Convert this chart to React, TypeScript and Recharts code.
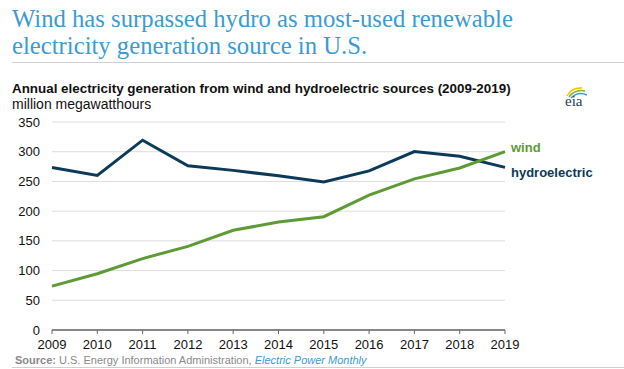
import React from "react";
import { LineChart, Line, XAxis, YAxis, CartesianGrid } from "recharts";

const years = ["2009", "2010", "2011", "2012", "2013", "2014", "2015", "2016", "2017", "2018", "2019"];
const wind = [73.9, 94.7, 120.2, 140.8, 167.8, 181.7, 190.7, 227.0, 254.3, 272.7, 300.1];
const hydro = [273.4, 260.2, 319.4, 276.2, 268.6, 259.4, 249.1, 267.8, 300.3, 292.5, 273.7];
const yTicks = [0, 50, 100, 150, 200, 250, 300, 350];

const data = years.map((y, i) => ({ year: y, wind: wind[i], hydro: hydro[i] }));

const WIND_COLOR = "#5e9a35";
const HYDRO_COLOR = "#0d3a58";
const SANS = "'Liberation Sans', Arial, sans-serif";

const endLabel = (text: string, color: string, dy: number) => (props: any) => {
  const { x, y, index } = props;
  if (index !== years.length - 1) return null;
  return (
    <text x={x + 6} y={y + dy} fill={color} fontFamily={SANS} fontSize={13} fontWeight="bold" dominantBaseline="central">
      {text}
    </text>
  );
};

export default function App() {
  return (
    <div style={{ position: "absolute", left: 0, top: 0, width: 624, height: 369, background: "#fff", overflow: "hidden" }}>
      <div
        style={{
          position: "absolute",
          left: 12,
          top: 5,
          fontFamily: "'Liberation Serif', 'Times New Roman', serif",
          fontSize: 24.7,
          lineHeight: "27px",
          color: "#3a9bd5",
          whiteSpace: "nowrap",
        }}
      >
        Wind has surpassed hydro as most-used renewable
        <br />
        electricity generation source in U.S.
      </div>
      <div style={{ position: "absolute", left: 12, top: 62, width: 612, height: 1, background: "#d0d0d0" }} />
      <div
        style={{
          position: "absolute",
          left: 12,
          top: 81,
          fontFamily: SANS,
          fontSize: 13.4,
          fontWeight: "bold",
          color: "#111",
          whiteSpace: "nowrap",
        }}
      >
        Annual electricity generation from wind and hydroelectric sources (2009-2019)
      </div>
      <div
        style={{
          position: "absolute",
          left: 12,
          top: 96,
          fontFamily: SANS,
          fontSize: 14,
          color: "#111",
          whiteSpace: "nowrap",
        }}
      >
        million megawatthours
      </div>
      <svg style={{ position: "absolute", left: 560, top: 82 }} width={32} height={28}>
        <path d="M7 14 Q12 5 22 6" stroke="#f2c200" strokeWidth={1.5} fill="none" />
        <path d="M9 15 Q15 7 25 9" stroke="#7fb241" strokeWidth={1.5} fill="none" />
        <path d="M11 16 Q18 9 27 13" stroke="#3a9bd5" strokeWidth={1.5} fill="none" />
        <text x={5} y={24} fontFamily="'Liberation Serif', serif" fontSize={15} fill="#1c3e5a">
          eia
        </text>
      </svg>
      <div style={{ position: "absolute", left: 0, top: 0 }}>
        <LineChart
          width={624}
          height={369}
          data={data}
          margin={{ top: 122, right: 119, bottom: 14, left: 0 }}
        >
          <CartesianGrid vertical={false} stroke="#dcdcdc" strokeWidth={1} />
          <XAxis
            dataKey="year"
            height={25}
            interval={0}
            tickSize={4}
            tickMargin={6}
            stroke="#666"
            axisLine={{ stroke: "#666", strokeWidth: 1.5 }}
            tickLine={{ stroke: "#666" }}
            tick={{ fill: "#111", fontFamily: SANS, fontSize: 13 }}
          />
          <YAxis
            width={52}
            domain={[0, 350]}
            ticks={yTicks}
            interval={0}
            axisLine={false}
            tickLine={false}
            tickMargin={6}
            tick={{ fill: "#111", fontFamily: SANS, fontSize: 13 }}
          />
          <Line
            type="linear"
            dataKey="hydro"
            stroke={HYDRO_COLOR}
            strokeWidth={3}
            dot={false}
            isAnimationActive={false}
            label={endLabel("hydroelectric", HYDRO_COLOR, 5)}
          />
          <Line
            type="linear"
            dataKey="wind"
            stroke={WIND_COLOR}
            strokeWidth={3}
            dot={false}
            isAnimationActive={false}
            label={endLabel("wind", WIND_COLOR, -4)}
          />
        </LineChart>
      </div>
      <div
        style={{
          position: "absolute",
          left: 15,
          top: 354,
          fontFamily: SANS,
          fontSize: 11,
          color: "#8a8a8a",
          whiteSpace: "nowrap",
        }}
      >
        <b>Source:</b> U.S. Energy Information Administration,{" "}
        <i style={{ color: "#3a9bd5" }}>Electric Power Monthly</i>
      </div>
      <div style={{ position: "absolute", left: 12, top: 367, width: 612, height: 1, background: "#d0d0d0" }} />
    </div>
  );
}
